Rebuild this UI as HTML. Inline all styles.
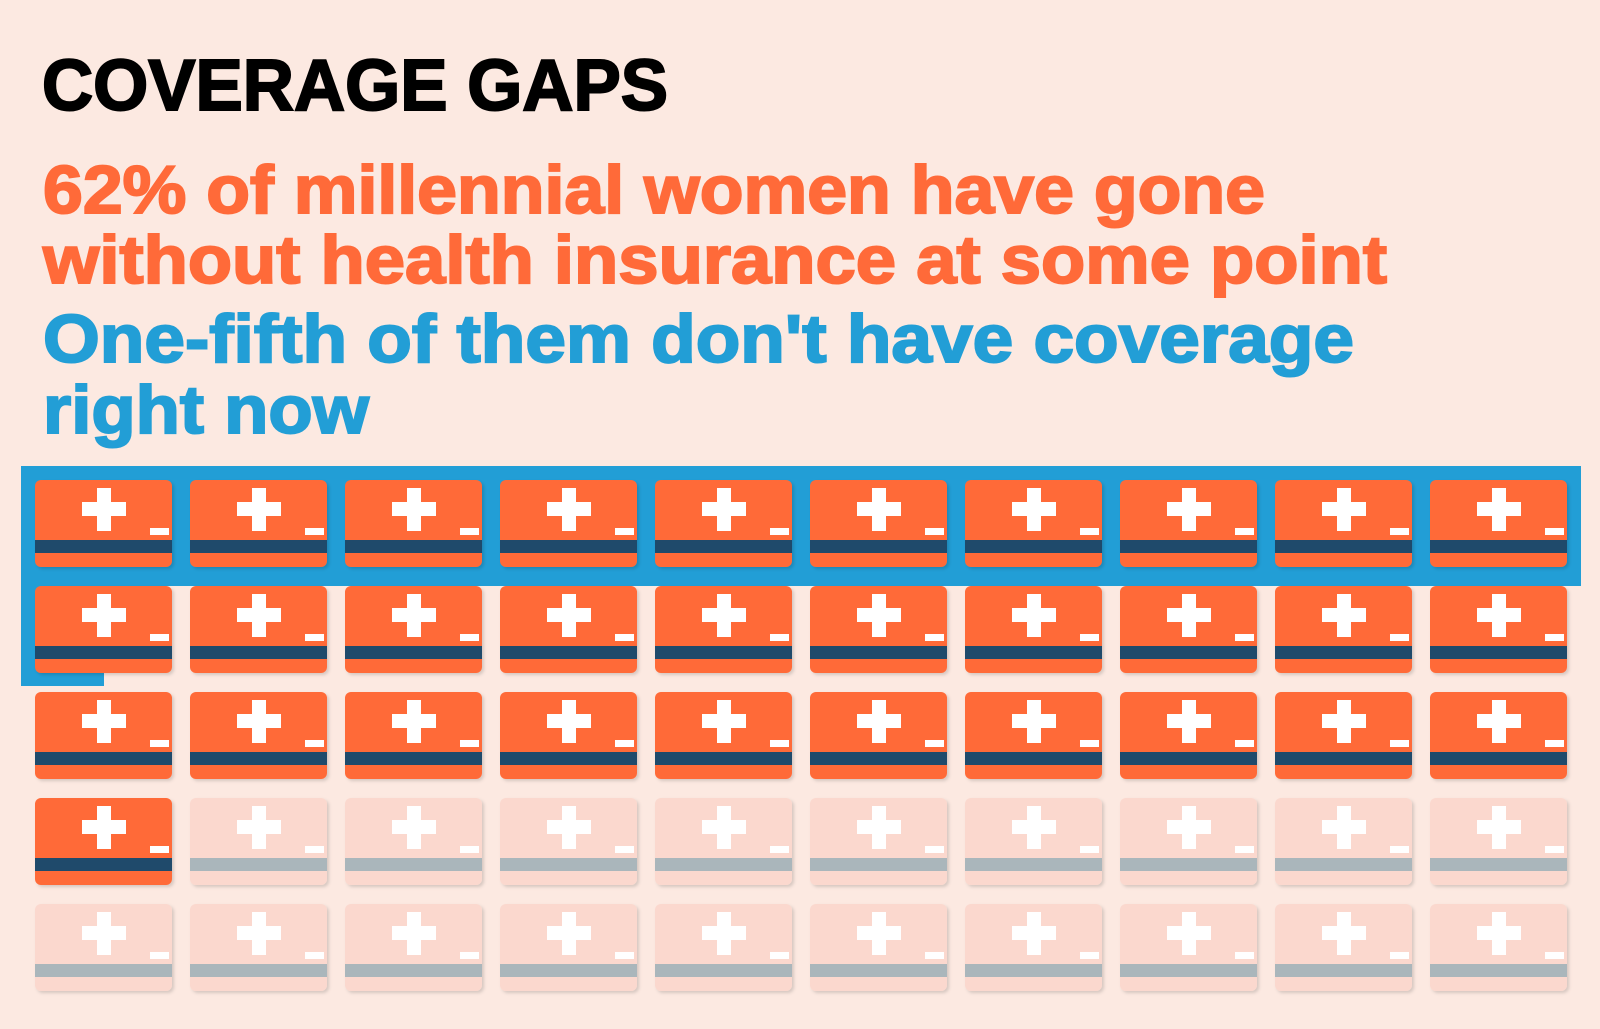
<!DOCTYPE html>
<html><head><meta charset="utf-8"><style>
html,body{margin:0;padding:0;background:#FCE9E1;}
svg{display:block}
</style></head><body>
<svg id="chart" width="1600" height="1029" viewBox="0 0 1600 1029" xmlns="http://www.w3.org/2000/svg" font-family="'Liberation Sans', sans-serif" font-weight="bold">
<rect width="1600" height="1029" fill="#FCE9E1"/>
<defs><filter id="sh" x="-10%" y="-10%" width="130%" height="130%"><feDropShadow dx="2" dy="2" stdDeviation="1.5" flood-color="#000" flood-opacity="0.15"/></filter></defs>
<text x="42" y="110" font-size="72" fill="#000" stroke="#000" stroke-width="2" textLength="626" lengthAdjust="spacingAndGlyphs">COVERAGE GAPS</text>
<text x="43" y="213" font-size="68" fill="#FF6A39" stroke="#FF6A39" stroke-width="2" textLength="1222" lengthAdjust="spacingAndGlyphs">62% of millennial women have gone</text>
<text x="43" y="283" font-size="68" fill="#FF6A39" stroke="#FF6A39" stroke-width="2" textLength="1344" lengthAdjust="spacingAndGlyphs">without health insurance at some point</text>
<text x="43" y="362" font-size="68" fill="#229ED6" stroke="#229ED6" stroke-width="2" textLength="1311" lengthAdjust="spacingAndGlyphs">One-fifth of them don't have coverage</text>
<text x="43" y="433" font-size="68" fill="#229ED6" stroke="#229ED6" stroke-width="2" textLength="326" lengthAdjust="spacingAndGlyphs">right now</text>
<g id="marks"></g>
</svg>
<script>
const totalCards = [50];
const everUninsured = [31];
const currentlyUninsured = [11];
const columns = [10];

const NS = 'http://www.w3.org/2000/svg';
const g = document.getElementById('marks');
const x0 = 35, y0 = 480, cw = 137, ch = 87, px = 155, py = 106;
const cols = columns[0];
function cx(i){ return x0 + (i % cols) * px; }
function cy(i){ return y0 + Math.floor(i / cols) * py; }
function mk(tag, attrs, parent){
  const e = document.createElementNS(NS, tag);
  for (const k in attrs) e.setAttribute(k, attrs[k]);
  parent.appendChild(e);
  return e;
}
const n = currentlyUninsured[0];
const fullRows = Math.floor(n / cols), rem = n % cols;
const hl = document.createElementNS(NS, 'path');


const L = x0 - 14, T = y0 - 14, R = cx(cols - 1) + cw + 14;
const rowBottom = r => cy(r * cols) + ch + 19;
let d;
if (rem === 0) {
  d = `M${L},${T}H${R}V${rowBottom(fullRows - 1)}H${L}Z`;
} else if (fullRows === 0) {
  d = `M${L},${T}H${cx(rem - 1) + 69}V${rowBottom(0)}H${L}Z`;
} else {
  const remR = cx(rem - 1) + 69;
  d = `M${L},${T}H${R}V${rowBottom(fullRows - 1)}H${remR}V${rowBottom(fullRows) - 6}H${L}Z`;
}
hl.setAttribute('d', d);
hl.setAttribute('fill', '#229ED6');
g.appendChild(hl);

const N = totalCards[0], ever = everUninsured[0];
for (let i = 0; i < N; i++) {
  const on = i < ever;
  const card = document.createElementNS(NS, 'g');
  
  
  card.setAttribute('transform', `translate(${cx(i)},${cy(i)})`);
  g.appendChild(card);
  mk('rect', {x:0, y:0, width:cw, height:ch, rx:6, fill: on ? '#FF6B38' : '#FBD8CE', filter:'url(#sh)'}, card);
  mk('rect', {x:0, y:60, width:cw, height:13, fill: on ? '#1F4A6B' : '#AAB6BB'}, card);
  mk('rect', {x:62, y:8, width:14, height:43, fill:'#fff'}, card);
  mk('rect', {x:47, y:22, width:44, height:14, fill:'#fff'}, card);
  mk('rect', {x:115, y:48, width:19, height:7, fill:'#fff'}, card);
}
</script>
</body></html>
